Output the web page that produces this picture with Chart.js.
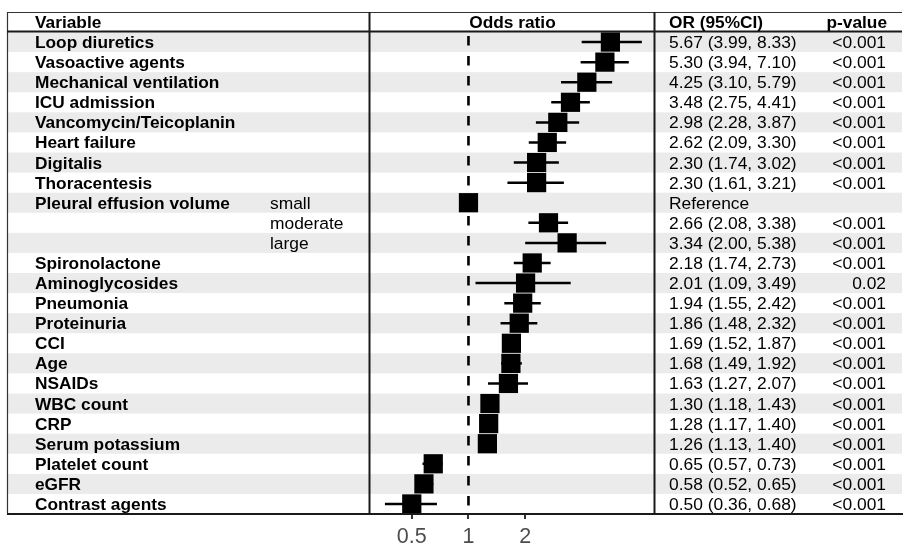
<!DOCTYPE html>
<html>
<head>
<meta charset="utf-8">
<script src="https://cdn.jsdelivr.net/npm/chart.js@4/dist/chart.umd.min.js"></script>
<style>
html,body{margin:0;padding:0;background:#fff;}
#c{display:block;}
</style>
</head>
<body>
<canvas id="c" width="904" height="544"></canvas>
<script>
// ---- data ----
const variables = ["Loop diuretics","Vasoactive agents","Mechanical ventilation","ICU admission","Vancomycin/Teicoplanin","Heart failure","Digitalis","Thoracentesis","Pleural effusion volume","","","Spironolactone","Aminoglycosides","Pneumonia","Proteinuria","CCI","Age","NSAIDs","WBC count","CRP","Serum potassium","Platelet count","eGFR","Contrast agents"];
const subLabels = ["","","","","","","","","small","moderate","large","","","","","","","","","","","","",""];
const orValues = [5.67,5.30,4.25,3.48,2.98,2.62,2.30,2.30,1,2.66,3.34,2.18,2.01,1.94,1.86,1.69,1.68,1.63,1.30,1.28,1.26,0.65,0.58,0.50];
const lowerCI = [3.99,3.94,3.10,2.75,2.28,2.09,1.74,1.61,null,2.08,2.00,1.74,1.09,1.55,1.48,1.52,1.49,1.27,1.18,1.17,1.13,0.57,0.52,0.36];
const upperCI = [8.33,7.10,5.79,4.41,3.87,3.30,3.02,3.21,null,3.38,5.38,2.73,3.49,2.42,2.32,1.87,1.92,2.07,1.43,1.40,1.40,0.73,0.65,0.68];
const orText = ["5.67 (3.99, 8.33)","5.30 (3.94, 7.10)","4.25 (3.10, 5.79)","3.48 (2.75, 4.41)","2.98 (2.28, 3.87)","2.62 (2.09, 3.30)","2.30 (1.74, 3.02)","2.30 (1.61, 3.21)","Reference","2.66 (2.08, 3.38)","3.34 (2.00, 5.38)","2.18 (1.74, 2.73)","2.01 (1.09, 3.49)","1.94 (1.55, 2.42)","1.86 (1.48, 2.32)","1.69 (1.52, 1.87)","1.68 (1.49, 1.92)","1.63 (1.27, 2.07)","1.30 (1.18, 1.43)","1.28 (1.17, 1.40)","1.26 (1.13, 1.40)","0.65 (0.57, 0.73)","0.58 (0.52, 0.65)","0.50 (0.36, 0.68)"];
const pValues = ["<0.001","<0.001","<0.001","<0.001","<0.001","<0.001","<0.001","<0.001","","<0.001","<0.001","<0.001","0.02","<0.001","<0.001","<0.001","<0.001","<0.001","<0.001","<0.001","<0.001","<0.001","<0.001","<0.001"];
const xTicks = [0.5, 1, 2];
const headers = {variable:"Variable", plot:"Odds ratio", or:"OR (95%CI)", p:"p-value"};

// ---- datasets ----
const squares = {
  type:'scatter',
  data: orValues.map((v,i)=>({x:v,y:i})),
  pointStyle:'rect', pointRadius:13.6, pointHoverRadius:13.6,
  backgroundColor:'#000', borderColor:'#000', borderWidth:0
};
const ciSets = [];
orValues.forEach((v,i)=>{
  if (lowerCI[i]==null) return;
  ciSets.push({
    type:'scatter', showLine:true,
    data:[{x:lowerCI[i],y:i},{x:upperCI[i],y:i}],
    borderColor:'#000', borderWidth:2.5, pointRadius:0, pointHoverRadius:0
  });
});
const refLine = {
  type:'scatter', showLine:true,
  data:[{x:1,y:-0.5},{x:1,y:23.5}],
  borderColor:'#000', borderWidth:2.6, borderDash:[9.5,10.5], borderDashOffset:16,
  pointRadius:0, pointHoverRadius:0
};

function txt(ctx, s, x, y, align, font, color){
  ctx.save();
  ctx.font = font;
  ctx.fillStyle = color || '#000';
  ctx.textAlign = align;
  ctx.textBaseline = 'alphabetic';
  ctx.fillText(s, x, y);
  ctx.restore();
}

const tablePlugin = {
  id:'table',
  beforeDatasetsDraw(chart){
    const ctx = chart.ctx, ys = chart.scales.y;
    ctx.save();
    ctx.fillStyle = '#ebebeb';
    for (let i=0;i<variables.length;i+=2){
      const t = ys.getPixelForValue(i-0.5), b = ys.getPixelForValue(i+0.5);
      ctx.fillRect(8, t, 894, b-t);
    }
    ctx.restore();
  },
  afterDraw(chart){
    const ctx = chart.ctx, ys = chart.scales.y;
    const bold = 'bold 17.3px "Liberation Sans", Arial, sans-serif';
    const reg = '17.4px "Liberation Sans", Arial, sans-serif';
    // lines
    ctx.save();
    ctx.strokeStyle = '#333';
    ctx.lineWidth = 1.2;
    ctx.beginPath(); ctx.moveTo(7,12.5); ctx.lineTo(902,12.5); ctx.stroke();
    ctx.beginPath(); ctx.moveTo(7.5,12); ctx.lineTo(7.5,514); ctx.stroke();
    ctx.strokeStyle = '#1a1a1a';
    ctx.lineWidth = 2;
    ctx.beginPath(); ctx.moveTo(7,31.5); ctx.lineTo(902,31.5); ctx.stroke();
    ctx.beginPath(); ctx.moveTo(7,514); ctx.lineTo(903,514); ctx.stroke();
    ctx.beginPath(); ctx.moveTo(369.5,12); ctx.lineTo(369.5,515); ctx.stroke();
    ctx.beginPath(); ctx.moveTo(654.5,12); ctx.lineTo(654.5,515); ctx.stroke();
    ctx.restore();
    // header
    const hy = 28;
    txt(ctx, headers.variable, 35, hy, 'left', bold);
    txt(ctx, headers.plot, 512.5, hy, 'center', bold);
    txt(ctx, headers.or, 669, hy, 'left', bold);
    txt(ctx, headers.p, 887, hy, 'right', bold);
    // rows
    variables.forEach((v,i)=>{
      const y = ys.getPixelForValue(i) + 6;
      if (v) txt(ctx, v, 35, y, 'left', bold);
      if (subLabels[i]) txt(ctx, subLabels[i], 270, y, 'left', reg);
      txt(ctx, orText[i], 669, y, 'left', reg);
      if (pValues[i]) txt(ctx, pValues[i], 886, y, 'right', reg);
    });
  }
};

new Chart(document.getElementById('c'), {
  type:'scatter',
  data:{ datasets:[squares, ...ciSets, refLine] },
  options:{
    responsive:false, animation:false,
    layout:{ padding:{ left:370, right:249, top:32, bottom:0 } },
    plugins:{ legend:{display:false}, tooltip:{enabled:false} },
    scales:{
      x:{
        type:'logarithmic', min:0.3056, max:9.78,
        afterBuildTicks(scale){ scale.ticks = xTicks.map(v=>({value:v})); },
        afterFit(scale){ scale.height = 30; },
        ticks:{
          autoSkip:false, maxRotation:0, padding:5,
          color:'#4d4d4d',
          font:{ family:'"Liberation Sans", Arial, sans-serif', size:21.5 },
          callback:(v)=>String(v)
        },
        grid:{ display:true, drawOnChartArea:false, drawTicks:true, tickLength:5, color:'#333', lineWidth:2 },
        border:{ display:false }
      },
      y:{
        type:'linear', reverse:true, min:-0.5, max:23.5, display:false
      }
    }
  },
  plugins:[tablePlugin]
});
</script>
</body>
</html>
